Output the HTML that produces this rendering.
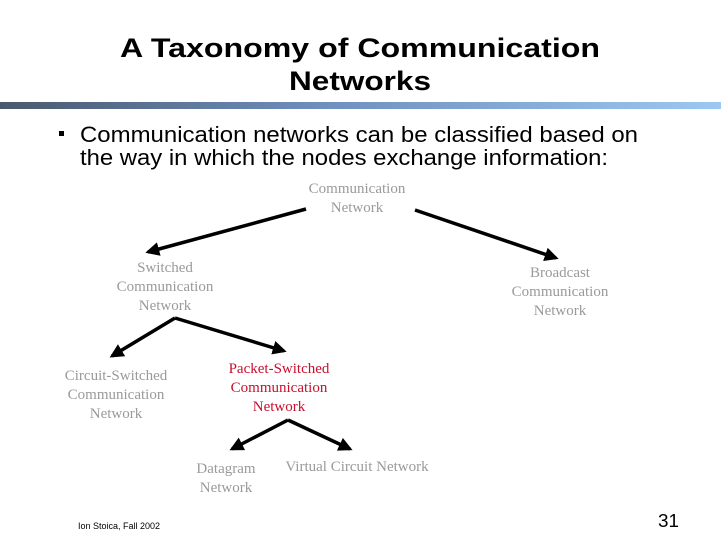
<!DOCTYPE html>
<html><head><meta charset="utf-8"><style>
html,body{margin:0;padding:0;background:#fff;width:721px;height:541px;overflow:hidden}
svg{display:block}
</style></head><body>
<svg width="721" height="541" viewBox="0 0 721 541" xmlns="http://www.w3.org/2000/svg">
<defs>
<linearGradient id="g" x1="0" x2="1" y1="0" y2="0">
<stop offset="0" stop-color="#4a5a6e"/>
<stop offset="0.45" stop-color="#6f8fbf"/>
<stop offset="1" stop-color="#9cc8f2"/>
</linearGradient>
<marker id="ah" viewBox="0 0 10 10" refX="8" refY="5" markerWidth="4" markerHeight="4" orient="auto">
<path d="M0,0 L10,5 L0,10 z" fill="#000"/>
</marker>
</defs>
<g font-family="Liberation Sans, Arial, sans-serif" fill="#000">
<text x="120" y="57" font-size="27" font-weight="bold" textLength="480" lengthAdjust="spacingAndGlyphs">A Taxonomy of Communication</text>
<text x="289" y="90" font-size="27" font-weight="bold" textLength="142" lengthAdjust="spacingAndGlyphs">Networks</text>
<rect x="0" y="102" width="721" height="7" fill="url(#g)"/>
<rect x="59" y="131" width="5" height="5" fill="#000"/>
<text x="80" y="142" font-size="22" textLength="558" lengthAdjust="spacingAndGlyphs">Communication networks can be classified based on</text>
<text x="80" y="165" font-size="22" textLength="528" lengthAdjust="spacingAndGlyphs">the way in which the nodes exchange information:</text>
<text x="78" y="529" font-size="9" textLength="82" lengthAdjust="spacingAndGlyphs">Ion Stoica, Fall 2002</text>
<text x="658" y="527" font-size="18" textLength="21" lengthAdjust="spacingAndGlyphs">31</text>
</g>
<g stroke="#000" stroke-width="3.5" fill="none" marker-end="url(#ah)">
<line x1="306" y1="209" x2="148" y2="252"/>
<line x1="415" y1="210" x2="556" y2="258"/>
<line x1="175" y1="318" x2="112" y2="356"/>
<line x1="175" y1="318" x2="284" y2="351"/>
<line x1="288" y1="420" x2="232" y2="449"/>
<line x1="288" y1="420" x2="350" y2="449"/>
</g>
<g font-family="Liberation Serif, Times New Roman, serif" font-size="15" fill="#9a9a9a" text-anchor="middle">
<text x="357" y="193">Communication</text>
<text x="357" y="212">Network</text>
<text x="165" y="272">Switched</text>
<text x="165" y="291">Communication</text>
<text x="165" y="310">Network</text>
<text x="560" y="277">Broadcast</text>
<text x="560" y="296">Communication</text>
<text x="560" y="315">Network</text>
<text x="116" y="380">Circuit-Switched</text>
<text x="116" y="399">Communication</text>
<text x="116" y="418">Network</text>
<text x="226" y="473">Datagram</text>
<text x="226" y="492">Network</text>
<text x="357" y="471">Virtual Circuit Network</text>
<g fill="#c8102e">
<text x="279" y="373">Packet-Switched</text>
<text x="279" y="392">Communication</text>
<text x="279" y="411">Network</text>
</g>
</g>
</svg>
</body></html>
